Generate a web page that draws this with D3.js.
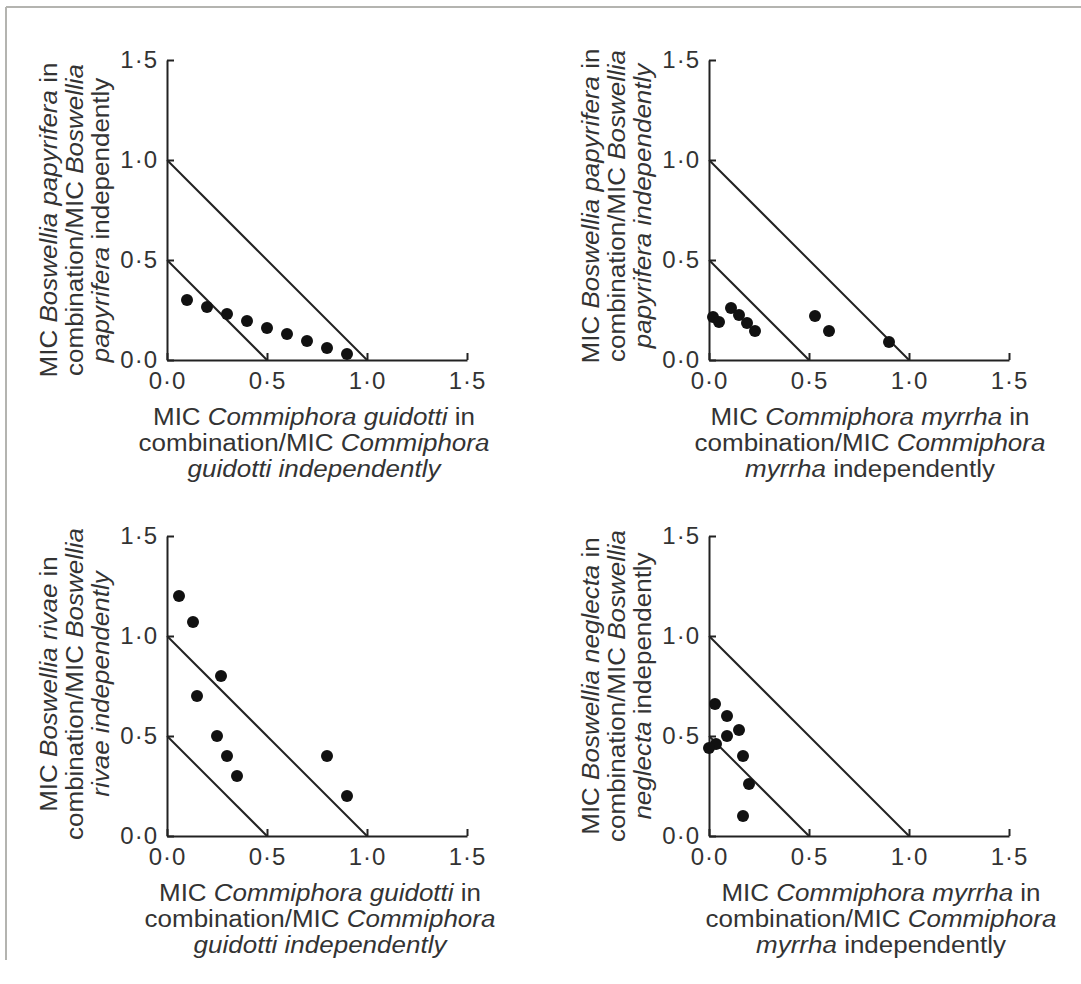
<!DOCTYPE html>
<html>
<head>
<meta charset="utf-8">
<script src="https://cdn.jsdelivr.net/npm/d3@7"></script>
<style>
  body { margin: 0; background: #fff; }
  svg text { font-family: "Liberation Sans", Arial, sans-serif; fill: #333; }
</style>
</head>
<body>
<svg id="chart" width="1081" height="984"></svg>
<script>
'use strict';

// axis ticks shared by all four panels
var tickValues = [0, 0.5, 1.0, 1.5];
// additivity lines: x + y = k
var isoboles = [0.5, 1.0];

// top-left: C. guidotti vs B. papyrifera
var guidottiPapyriferaX = [0.10, 0.20, 0.30, 0.40, 0.50, 0.60, 0.70, 0.80, 0.90];
var guidottiPapyriferaY = [0.30, 0.265, 0.23, 0.195, 0.16, 0.13, 0.095, 0.06, 0.03];

// top-right: C. myrrha vs B. papyrifera
var myrrhaPapyriferaX = [0.02, 0.05, 0.11, 0.15, 0.19, 0.23, 0.53, 0.60, 0.90];
var myrrhaPapyriferaY = [0.215, 0.19, 0.26, 0.225, 0.185, 0.145, 0.22, 0.145, 0.09];

// bottom-left: C. guidotti vs B. rivae
var guidottiRivaeX = [0.06, 0.13, 0.27, 0.15, 0.25, 0.30, 0.35, 0.80, 0.90];
var guidottiRivaeY = [1.20, 1.07, 0.80, 0.70, 0.50, 0.40, 0.30, 0.40, 0.20];

// bottom-right: C. myrrha vs B. neglecta
var myrrhaNeglectaX = [0.03, 0.09, 0.15, 0.09, 0.035, 0.0, 0.17, 0.20, 0.17];
var myrrhaNeglectaY = [0.66, 0.60, 0.53, 0.50, 0.46, 0.44, 0.40, 0.26, 0.10];

// axis titles, each line is a list of [text, italic]
var xTitleGuidotti = [
  [["MIC ", false], ["Commiphora guidotti", true], [" in", false]],
  [["combination/MIC ", false], ["Commiphora", true]],
  [["guidotti independently", true]]
];
var xTitleMyrrha = [
  [["MIC ", false], ["Commiphora myrrha", true], [" in", false]],
  [["combination/MIC ", false], ["Commiphora", true]],
  [["myrrha", true], [" independently", false]]
];
var yTitlePapyrifera1 = [
  [["MIC ", false], ["Boswellia papyrifera", true], [" in", false]],
  [["combination/MIC ", false], ["Boswellia", true]],
  [["papyrifera", true], [" independently", false]]
];
var yTitlePapyrifera2 = [
  [["MIC ", false], ["Boswellia papyrifera", true], ["  in", false]],
  [["combination/MIC ", false], ["Boswellia", true]],
  [["papyrifera independently", true]]
];
var yTitleRivae = [
  [["MIC ", false], ["Boswellia rivae", true], [" in", false]],
  [["combination/MIC ", false], ["Boswellia", true]],
  [["rivae independently", true]]
];
var yTitleNeglecta = [
  [["MIC ", false], ["Boswellia neglecta", true], [" in", false]],
  [["combination/MIC ", false], ["Boswellia", true]],
  [["neglecta", true], [" independently", false]]
];

var svg = d3.select('#chart');

// thin frame of the original figure
svg.append('line').attr('x1', 6).attr('y1', 7).attr('x2', 1081).attr('y2', 7)
  .attr('stroke', '#b4b4b0').attr('stroke-width', 2);
svg.append('line').attr('x1', 6).attr('y1', 7).attr('x2', 6).attr('y2', 960)
  .attr('stroke', '#b4b4b0').attr('stroke-width', 2);

var panels = [
  { left: 167, top: 60, xs: guidottiPapyriferaX, ys: guidottiPapyriferaY, xTitle: xTitleGuidotti, yTitle: yTitlePapyrifera1, xShift: -3, yShift: 10 },
  { left: 709, top: 60, xs: myrrhaPapyriferaX, ys: myrrhaPapyriferaY, xTitle: xTitleMyrrha, yTitle: yTitlePapyrifera2, xShift: 11, yShift: -4 },
  { left: 167, top: 536, xs: guidottiRivaeX, ys: guidottiRivaeY, xTitle: xTitleGuidotti, yTitle: yTitleRivae, xShift: 3, yShift: -2 },
  { left: 709, top: 536, xs: myrrhaNeglectaX, ys: myrrhaNeglectaY, xTitle: xTitleMyrrha, yTitle: yTitleNeglecta, xShift: 22, yShift: 0 }
];

var plotW = 300, plotH = 300;
var titleSize = 23, titleStretch = 1.13, lineGap = 26;
var fmt = function(d) { return d3.format('.1f')(d).replace('.', '\u00b7'); };

var writeLine = function(textSel, parts) {
  parts.forEach(function(p) {
    textSel.append('tspan')
      .attr('font-style', p[1] ? 'italic' : 'normal')
      .text(p[0]);
  });
};

var drawPanel = function(cfg) {
  var g = svg.append('g').attr('transform', 'translate(' + cfg.left + ',' + cfg.top + ')');
  var x = d3.scaleLinear().domain([0, 1.5]).range([0, plotW]);
  var y = d3.scaleLinear().domain([0, 1.5]).range([plotH, 0]);

  var xAxis = d3.axisBottom(x).tickValues(tickValues).tickFormat(fmt)
    .tickSizeInner(-7).tickSizeOuter(0).tickPadding(12);
  var yAxis = d3.axisLeft(y).tickValues(tickValues).tickFormat(fmt)
    .tickSizeInner(-7).tickSizeOuter(0).tickPadding(9);

  var gx = g.append('g').attr('transform', 'translate(0,' + plotH + ')').call(xAxis);
  var gy = g.append('g').call(yAxis);
  [gx, gy].forEach(function(a) {
    a.selectAll('path, line').attr('stroke', '#222').attr('stroke-width', 2);
    a.selectAll('text').attr('font-size', 24).attr('fill', '#333')
      .attr('letter-spacing', 1)
      .style('font-family', '"Liberation Sans", Arial, sans-serif');
  });

  // additivity lines
  g.selectAll('line.iso').data(isoboles).enter().append('line')
    .attr('class', 'iso')
    .attr('x1', x(0)).attr('y1', function(k) { return y(k); })
    .attr('x2', function(k) { return x(k); }).attr('y2', y(0))
    .attr('stroke', '#222').attr('stroke-width', 2);

  // data points
  var pts = cfg.xs.map(function(v, i) { return { x: v, y: cfg.ys[i] }; });
  g.selectAll('circle.pt').data(pts).enter().append('circle')
    .attr('class', 'pt')
    .attr('cx', function(d) { return x(d.x); })
    .attr('cy', function(d) { return y(d.y); })
    .attr('r', 6)
    .attr('fill', '#111');

  // x title, three centred lines
  cfg.xTitle.forEach(function(parts, i) {
    var t = g.append('text')
      .attr('transform', 'translate(' + (plotW / 2 + cfg.xShift) + ',' + (plotH + 65 + i * lineGap) + ') scale(' + titleStretch + ',1)')
      .attr('text-anchor', 'middle')
      .attr('font-size', titleSize);
    writeLine(t, parts);
  });

  // y title, rotated
  cfg.yTitle.forEach(function(parts, i) {
    var t = g.append('text')
      .attr('transform', 'translate(' + (-110 + i * lineGap) + ',' + (plotH / 2 + cfg.yShift) + ') rotate(-90) scale(' + titleStretch + ',1)')
      .attr('text-anchor', 'middle')
      .attr('font-size', titleSize);
    writeLine(t, parts);
  });
};

panels.forEach(drawPanel);
</script>
</body>
</html>
